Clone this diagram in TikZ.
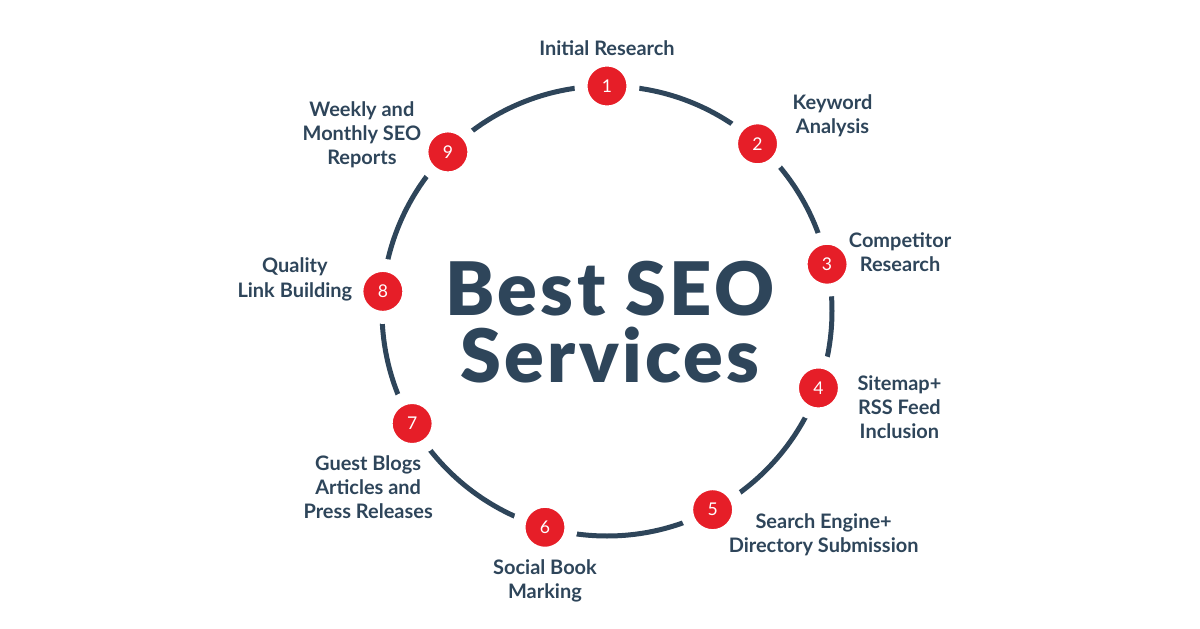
\documentclass[tikz,border=0pt]{standalone}
\usepackage{fontspec}
\setmainfont{Lato}
\newfontfamily\headfont{Lato Black}[LetterSpace=4.5]
\usepackage{tikz}
\definecolor{slate}{RGB}{46,69,90}
\definecolor{seored}{RGB}{230,30,40}
\tikzstyle{ring} = [draw=slate, line width=0.125cm]
\tikzstyle{badge} = [circle, minimum size=1.3cm, inner sep=0pt, fill=seored, draw=white, line width=0.325cm, text=white, font=\fontsize{12.5}{12.5}\selectfont]
\tikzstyle{steptext} = [inner sep=0pt, align=center, text=slate, font=\bfseries\fontsize{14.2}{17.1}\selectfont]
\tikzstyle{headline} = [inner sep=0pt, align=center, text=slate, font=\headfont\fontsize{52.5}{47.6}\selectfont]

\begin{document}
\begin{tikzpicture}[node distance=1cm]
                \useasboundingbox (-15.175,-7.925) rectangle (14.825,7.775);
                \coordinate (centre) at (0,0);

% ---------------------------------------------
% Ring and title
% ---------------------------------------------
                \draw [ring] (centre) circle (5.625cm);
                \node (title) [headline, xshift=0.075cm, yshift=-0.275cm] at (centre) {Best SEO\\Services};

% ---------------------------------------------
% Numbered badges on the ring
% ---------------------------------------------
                \node (n1) [badge] at (90:5.625) {1};
                \node (n2) [badge] at (48:5.625) {2};
                \node (n3) [badge] at (12:5.625) {3};
                \node (n4) [badge] at (-20:5.625) {4};
                \node (n5) [badge] at (-62:5.625) {5};
                \node (n6) [badge] at (-106:5.625) {6};
                \node (n7) [badge] at (-150:5.625) {7};
                \node (n8) [badge] at (175:5.625) {8};
                \node (n9) [badge] at (135:5.625) {9};

% ---------------------------------------------
% Step texts
% ---------------------------------------------
                \node (t1) [steptext, above of = n1, yshift=-0.05cm] {Initial Research};
                \node (t2) [steptext, right of = n2, xshift=0.875cm, yshift=0.7cm] {Keyword\\Analysis};
                \node (t3) [steptext, right of = n3, xshift=0.825cm, yshift=0.3cm] {Competitor\\Research};
                \node (t4) [steptext, right of = n4, xshift=1.025cm, yshift=-0.475cm] {Sitemap+\\RSS Feed\\Inclusion};
                \node (t5) [steptext, right of = n5, xshift=1.775cm, yshift=-0.625cm] {Search Engine+\\Directory Submission};
                \node (t6) [steptext, below of = n6, yshift=-0.35cm] {Social Book\\Marking};
                \node (t7) [steptext, below of = n7, xshift=-1.1cm, yshift=-0.6cm] {Guest Blogs\\Articles and\\Press Releases};
                \node (t8) [steptext, left of = n8, xshift=-1.2cm, yshift=0.3cm] {Quality\\Link Building};
                \node (t9) [steptext, left of = n9, xshift=-1.15cm, yshift=0.425cm] {Weekly and\\Monthly SEO\\Reports};

            \end{tikzpicture}
\end{document}
